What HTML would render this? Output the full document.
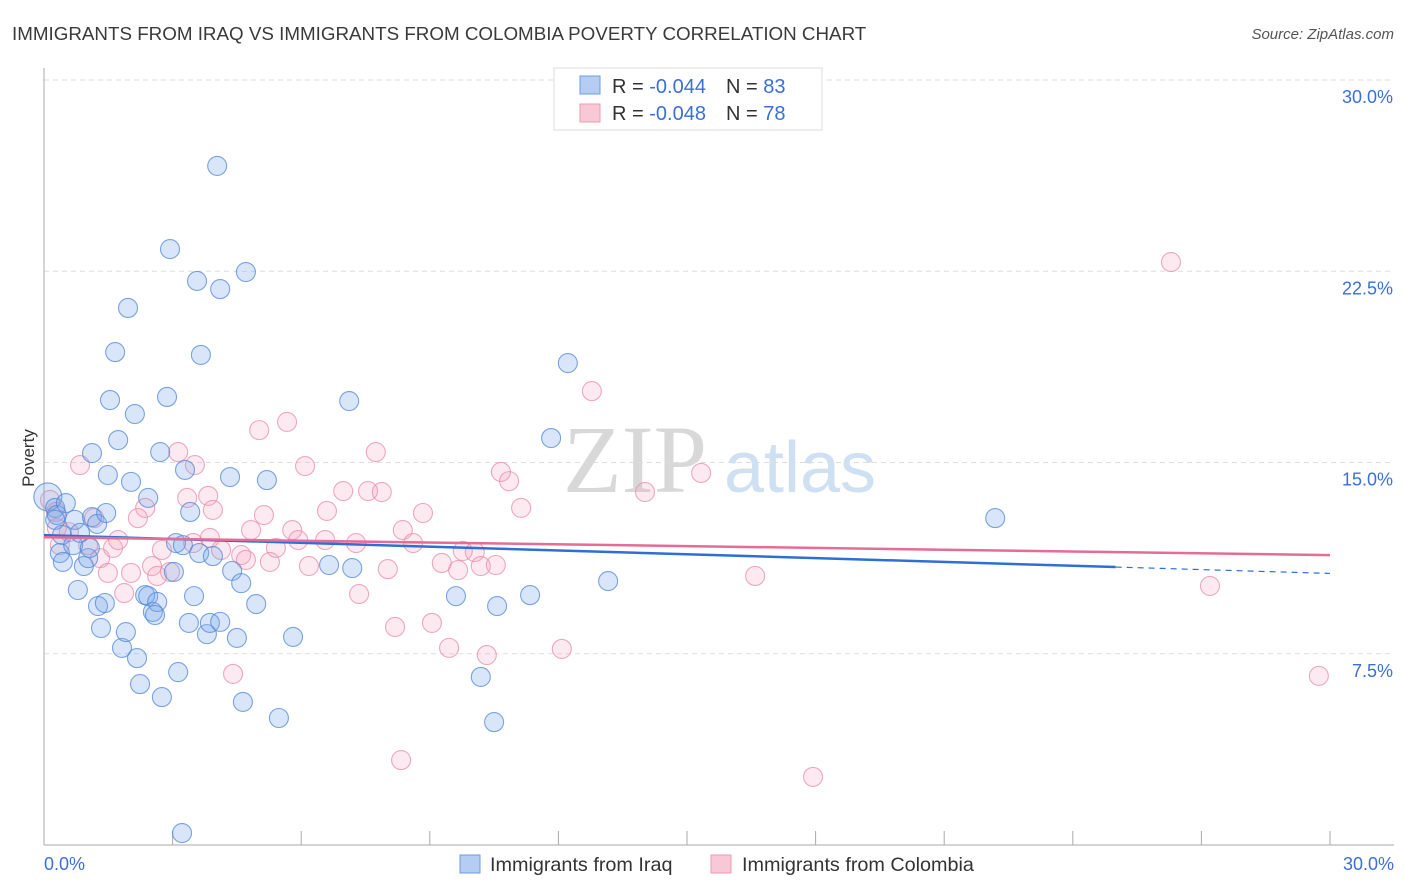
<!DOCTYPE html>
<html><head><meta charset="utf-8"><style>
body{margin:0;background:#fff;font-family:"Liberation Sans",sans-serif;}
svg{display:block}
</style></head><body>
<svg id="chart" width="1406" height="892">
<text x="12" y="40" font-size="18.8" fill="#3a3a3a">IMMIGRANTS FROM IRAQ VS IMMIGRANTS FROM COLOMBIA POVERTY CORRELATION CHART</text>
<text x="1394" y="39" font-size="15" fill="#555" font-style="italic" text-anchor="end">Source: ZipAtlas.com</text>
<text x="635" y="492" font-size="96" fill="#d8d8d8" font-family="Liberation Serif,serif" text-anchor="middle">ZIP</text>
<text x="800" y="492" font-size="72" fill="#cfe0f3" text-anchor="middle">atlas</text>
<g id="grid"></g>
<g id="pts"></g>
<g id="lines"></g>
<text transform="translate(34,458) rotate(-90)" font-size="17" fill="#333" text-anchor="middle">Poverty</text>
<rect x="554" y="68" width="268" height="62" fill="#fff" stroke="#ddd"/>
<rect x="580" y="76" width="20" height="18" fill="#b5cdf3" stroke="#6d9be0"/>
<rect x="580" y="104" width="20" height="18" fill="#f8c8d6" stroke="#ec9ab2"/>
<text x="612" y="93" font-size="20" fill="#333">R = <tspan fill="#3a6fd8">-0.044</tspan><tspan dx="20">N = </tspan><tspan fill="#3a6fd8">83</tspan></text>
<text x="612" y="120" font-size="20" fill="#333">R = <tspan fill="#3a6fd8">-0.048</tspan><tspan dx="20">N = </tspan><tspan fill="#3a6fd8">78</tspan></text>
<rect x="460" y="855" width="20" height="18" fill="#b5cdf3" stroke="#6d9be0"/>
<text x="490" y="871" font-size="19.8" fill="#333">Immigrants from Iraq</text>
<rect x="711" y="855" width="20" height="18" fill="#f8c8d6" stroke="#ec9ab2"/>
<text x="742" y="871" font-size="19.8" fill="#333">Immigrants from Colombia</text>
</svg>
<script>
const yTicks=[7.5,15,22.5,30];
const yTickLabels=["7.5%","15.0%","22.5%","30.0%"];
const xTickLabels=["0.0%","30.0%"];
const iraqPx=[[48,497],[55,508],[57,515],[55,520],[66,503],[62,535],[60,553],[63,562],[75,520],[73,545],[80,533],[84,566],[88,558],[90,548],[78,590],[92,517],[97,524],[106,513],[108,475],[92,453],[110,400],[115,352],[118,440],[128,308],[131,482],[135,414],[148,498],[160,452],[167,397],[170,249],[185,470],[190,512],[197,281],[201,355],[217,166],[220,289],[230,477],[246,272],[267,480],[349,401],[568,363],[551,438],[995,518],[98,606],[101,628],[105,603],[122,648],[126,632],[137,658],[140,684],[145,595],[148,596],[153,612],[157,602],[155,615],[162,697],[174,572],[176,543],[178,672],[183,545],[189,623],[194,596],[199,553],[207,634],[210,623],[213,556],[220,622],[232,571],[237,638],[241,583],[243,702],[256,604],[279,718],[293,637],[329,565],[352,568],[456,596],[481,677],[497,606],[494,722],[530,595],[608,581],[182,833]];
const colPx=[[50,500],[56,512],[57,528],[60,545],[69,532],[80,465],[88,545],[94,518],[100,558],[108,573],[113,548],[118,540],[124,593],[131,573],[138,518],[145,508],[152,566],[157,576],[162,550],[170,572],[178,452],[187,498],[193,543],[195,465],[208,496],[213,510],[210,538],[221,550],[233,674],[241,555],[246,560],[251,530],[259,430],[264,515],[270,562],[276,548],[287,422],[292,530],[298,540],[305,466],[309,566],[325,540],[327,511],[343,491],[356,543],[359,594],[368,491],[376,452],[382,492],[388,569],[395,627],[401,760],[403,530],[413,543],[423,513],[432,623],[442,563],[449,648],[458,570],[463,551],[475,552],[481,566],[487,655],[496,565],[501,472],[509,481],[521,508],[562,649],[592,391],[645,492],[701,473],[755,576],[813,777],[1171,262],[1210,586],[1319,676]];
const iraqX=iraqPx.map(p=>+((p[0]-44)/1286*30).toFixed(2));
const iraqY=iraqPx.map(p=>+((845-p[1])/765*30).toFixed(2));
const colX=colPx.map(p=>+((p[0]-44)/1286*30).toFixed(2));
const colY=colPx.map(p=>+((845-p[1])/765*30).toFixed(2));
const iraqTrend=[12.15,10.65];
const colTrend=[12.07,11.37];
const NS="http://www.w3.org/2000/svg";
const X=v=>44+v/30*1286, Y=v=>845-v/30*765;
function mk(t,a,parent){const e=document.createElementNS(NS,t);for(const k in a)e.setAttribute(k,a[k]);parent.appendChild(e);return e;}
const grid=document.getElementById('grid');
yTicks.forEach((t,i)=>{
 const l=mk('line',{x1:44,x2:1394,y1:Y(t),y2:Y(t),stroke:'#ddd','stroke-dasharray':'5,4'},grid);
 
 
 const tx=mk('text',{x:1393,y:Y(t)+23,'font-size':18,fill:'#3a6fd8','text-anchor':'end'},grid);
 tx.textContent=yTickLabels[i];
 
 
});
const ax=mk('line',{x1:44,x2:44,y1:68,y2:845,stroke:'#aaa'},grid);


const bx=mk('line',{x1:44,x2:1394,y1:845,y2:845,stroke:'#aaa'},grid);


for(let i=0;i<=10;i++){const t=mk('line',{x1:X(i*3),x2:X(i*3),y1:831,y2:845,stroke:'#aaa'},grid);
 
 }
[[0,'start',44],[30,'end',1394]].forEach((d,i)=>{const t=mk('text',{x:d[2],y:870,'font-size':18,fill:'#3a6fd8','text-anchor':d[1]},grid);t.textContent=xTickLabels[i];
 
 });
const pts=document.getElementById('pts');
colX.forEach((x,i)=>{const c=mk('circle',{cx:X(x),cy:Y(colY[i]),r:9.5,fill:'rgba(244,160,187,0.22)',stroke:'rgba(232,140,170,0.75)','stroke-width':1.1},pts);
 
 });
iraqX.forEach((x,i)=>{const c=mk('circle',{cx:X(x),cy:Y(iraqY[i]),r:i==0?14:9.5,fill:'rgba(120,165,235,0.28)',stroke:'rgba(80,135,215,0.75)','stroke-width':1.1},pts);
 
 });
const lines=document.getElementById('lines');
const ty=(a,x)=>a[0]+(a[1]-a[0])*x/30;
let l1=mk('line',{x1:X(0),y1:Y(ty(iraqTrend,0)),x2:X(25),y2:Y(ty(iraqTrend,25)),stroke:'#2d6fd6','stroke-width':2.5},lines);


let l2=mk('line',{x1:X(25),y1:Y(ty(iraqTrend,25)),x2:X(30),y2:Y(ty(iraqTrend,30)),stroke:'#2d6fd6','stroke-width':1.2,'stroke-dasharray':'6,5'},lines);


let l3=mk('line',{x1:X(0),y1:Y(colTrend[0]),x2:X(30),y2:Y(colTrend[1]),stroke:'#e46c95','stroke-width':2.5},lines);


</script>
</body></html>
